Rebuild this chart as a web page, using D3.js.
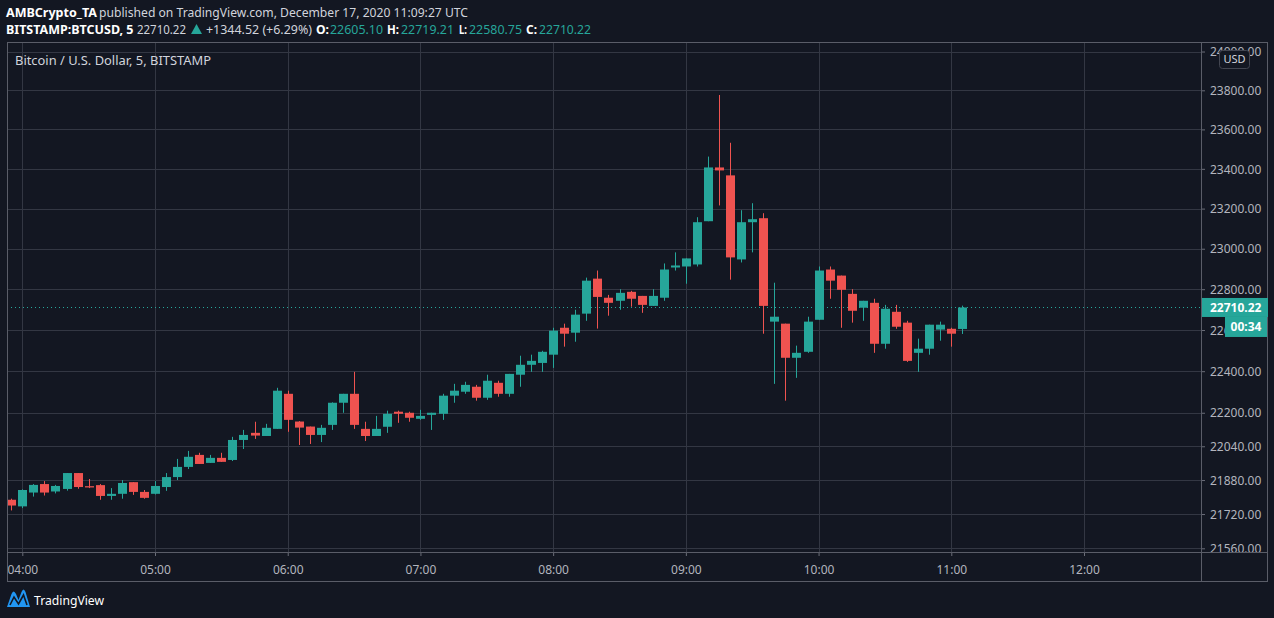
<!DOCTYPE html>
<html><head><meta charset="utf-8">
<script src="https://cdn.jsdelivr.net/npm/d3@7"></script>
<style>
html,body{margin:0;padding:0;background:#131722;}
svg{display:block;}
text{font-family:"Noto Sans",sans-serif;}
</style></head><body>
<svg id="c" width="1274" height="618"></svg>
<script>
const times = ["03:55","04:00","04:05","04:10","04:15","04:20","04:25","04:30","04:35","04:40","04:45","04:50","04:55",
"05:00","05:05","05:10","05:15","05:20","05:25","05:30","05:35","05:40","05:45","05:50","05:55",
"06:00","06:05","06:10","06:15","06:20","06:25","06:30","06:35","06:40","06:45","06:50","06:55",
"07:00","07:05","07:10","07:15","07:20","07:25","07:30","07:35","07:40","07:45","07:50","07:55",
"08:00","08:05","08:10","08:15","08:20","08:25","08:30","08:35","08:40","08:45","08:50","08:55",
"09:00","09:05","09:10","09:15","09:20","09:25","09:30","09:35","09:40","09:45","09:50","09:55",
"10:00","10:05","10:10","10:15","10:20","10:25","10:30","10:35","10:40","10:45","10:50","10:55",
"11:00","11:05"];
const opens = [21787,21756,21821,21861,21826,21838,21913,21851,21856,21805,21815,21870,21824,
21815,21847,21894,21942,21999,21961,21985,21975,22070,22104,22089,22123,
22291,22158,22134,22094,22142,22248,22291,22123,22089,22133,22205,22200,
22171,22190,22195,22282,22301,22325,22272,22344,22291,22383,22431,22440,
22480,22611,22587,22680,22852,22758,22743,22787,22767,22718,22758,22907,
22912,22922,23137,23407,23367,22947,23132,23152,22641,22631,22465,22494,
22650,22897,22867,22777,22709,22733,22533,22689,22636,22489,22509,22602,
22606,22605.10];
const highs = [21792,21836,21861,21875,21857,21913,21913,21885,21861,21842,21880,21870,21833,
21875,21913,21980,22018,22009,21999,22009,22085,22118,22157,22147,22320,
22306,22160,22134,22142,22250,22291,22397,22157,22185,22210,22210,22205,
22214,22200,22291,22339,22349,22334,22383,22354,22387,22475,22480,22499,
22611,22631,22699,22857,22892,22772,22800,22792,22767,22800,22927,22982,
22952,23157,23462,23776,23532,23192,23227,23177,22832,22631,22524,22665,
22912,22912,22867,22800,22743,22753,22723,22723,22645,22558,22626,22641,
22611,22719.21];
const lows = [21737,21748,21802,21807,21817,21830,21839,21842,21787,21787,21792,21810,21792,
21812,21829,21880,21932,21956,21961,21966,21970,22027,22075,22089,22123,
22109,22046,22051,22060,22118,22200,22123,22065,22089,22104,22152,22157,
22166,22118,22166,22248,22291,22258,22262,22277,22277,22325,22397,22397,
22416,22519,22543,22645,22607,22670,22699,22714,22684,22718,22743,22892,
22827,22912,23137,23216,22847,22932,22982,22582,22339,22258,22368,22489,
22650,22753,22611,22636,22645,22489,22509,22606,22445,22397,22480,22548,
22519,22580.75];
const closes = [21760,21833,21857,21821,21852,21913,21847,21845,21805,21815,21866,21824,21796,
21852,21894,21942,21990,21956,21985,21966,22070,22094,22091,22128,22306,
22166,22129,22094,22128,22248,22291,22142,22089,22123,22195,22195,22176,
22185,22200,22282,22306,22334,22272,22354,22291,22387,22431,22450,22494,
22597,22582,22675,22842,22762,22733,22782,22753,22723,22767,22897,22917,
22952,23132,23407,23392,22957,23132,23147,22718,22665,22465,22489,22641,
22892,22842,22797,22694,22743,22533,22704,22616,22450,22509,22626,22626,
22582,22710.22];
const priceTicks = [21560,21720,21880,22040,22200,22400,22600,22800,23000,23200,23400,23600,23800,24000];
const hourTicks = ["04:00","05:00","06:00","07:00","08:00","09:00","10:00","11:00","12:00"];
const lastPrice = 22710.22;

const UP = "#26a69a", DOWN = "#ef5350", GRID = "#333743", BORDER = "#5a5d68", TXT = "#d1d4dc", AX = "#b2b5be";
const parse = t => new Date(Date.UTC(2020, 11, 17, +t.slice(0, 2), +t.slice(3)));

const L = 7, R = 1201, T = 42, B = 552;
const svg = d3.select("#c");
svg.append("rect").attr("width", 1274).attr("height", 618).attr("fill", "#131722");

const x = d3.scaleUtc().domain([parse("04:00"), parse("12:00")]).range([22.3, 1084]);
const y = d3.scaleLog().domain([21560, 23800]).range([548.3, 90.3]);

const defs = svg.append("defs");
defs.append("clipPath").attr("id", "plot").append("rect").attr("x", L).attr("y", T).attr("width", R - L).attr("height", B - T);
defs.append("clipPath").attr("id", "pax").append("rect").attr("x", R + 1).attr("y", T + 1).attr("width", 66).attr("height", B - T - 1);

// grid
const g = svg.append("g").attr("clip-path", "url(#plot)");
g.selectAll(".hg").data(priceTicks).join("line")
  .attr("x1", L).attr("x2", R).attr("y1", d => Math.round(y(d)) + 0.5).attr("y2", d => Math.round(y(d)) + 0.5)
  .attr("stroke", GRID).attr("stroke-width", 1);
g.selectAll(".vg").data(hourTicks).join("line")
  .attr("y1", T).attr("y2", B).attr("x1", d => Math.round(x(parse(d))) + 0.5).attr("x2", d => Math.round(x(parse(d))) + 0.5)
  .attr("stroke", GRID).attr("stroke-width", 1);

// last price dotted line
g.append("line").attr("x1", L).attr("x2", R).attr("y1", Math.round(y(lastPrice)) + 0.5).attr("y2", Math.round(y(lastPrice)) + 0.5)
  .attr("stroke", UP).attr("stroke-width", 1).attr("stroke-dasharray", "1,3");

// candles
const data = times.map((t, i) => ({ t: parse(t), o: opens[i], h: highs[i], l: lows[i], c: closes[i] }));
const cg = g.append("g");
data.forEach(d => {
  const cx = Math.round(x(d.t));
  const col = d.c >= d.o ? UP : DOWN;
  const yh = y(d.h), yl = y(d.l);
  cg.append("rect").attr("x", cx).attr("width", 1).attr("y", yh).attr("height", Math.max(1, yl - yh)).attr("fill", col);
  const top = y(Math.max(d.o, d.c)), bot = y(Math.min(d.o, d.c));
  cg.append("rect").attr("x", cx - 4).attr("width", 9).attr("y", top).attr("height", Math.max(1, bot - top)).attr("fill", col);
});

// price axis
const yaOuter = svg.append("g").attr("clip-path", "url(#pax)");
const ya = yaOuter.append("g").attr("transform", `translate(${R},0)`)
  .call(d3.axisRight(y).tickValues(priceTicks).tickFormat(d3.format(".2f")).tickSize(4).tickPadding(5));
ya.select(".domain").remove();
ya.selectAll("line").attr("stroke", "#6a6d78");
ya.selectAll("text").attr("fill", AX).style("font-size", "12px").attr("dy", "0.35em");

// time axis
const xa = svg.append("g").attr("transform", `translate(0,${B})`)
  .call(d3.axisBottom(x).tickValues(hourTicks.map(parse)).tickFormat(d3.utcFormat("%H:%M")).tickSize(4).tickPadding(9));
xa.select(".domain").remove();
xa.selectAll("line").attr("stroke", "#6a6d78");
xa.selectAll("text").attr("fill", AX).style("font-size", "12px");

// borders
svg.append("rect").attr("x", L + 0.5).attr("y", T + 0.5).attr("width", 1267 - L).attr("height", 581 - T)
  .attr("fill", "none").attr("stroke", BORDER);
svg.append("line").attr("x1", R + 0.5).attr("x2", R + 0.5).attr("y1", T).attr("y2", 581).attr("stroke", BORDER);
svg.append("line").attr("x1", L).attr("x2", 1267.5).attr("y1", B + 0.5).attr("y2", B + 0.5).attr("stroke", BORDER);

// last price label + countdown
const ly = y(lastPrice);
svg.append("rect").attr("x", R + 1).attr("y", ly - 9.5).attr("width", 66).attr("height", 19).attr("fill", UP);
svg.append("text").attr("x", 1210).attr("y", ly).attr("dy", "0.36em").attr("fill", "#ffffff")
  .style("font-size", "12px").style("font-weight", "bold").text("22710.22");
svg.append("rect").attr("x", 1225).attr("y", ly + 9.5).attr("width", 42).attr("height", 20).attr("fill", UP);
svg.append("text").attr("x", 1246).attr("y", ly + 19.5).attr("dy", "0.36em").attr("text-anchor", "middle").attr("fill", "#ffffff")
  .style("font-size", "12px").style("font-weight", "bold").text("00:34");

// USD badge
svg.append("rect").attr("x", 1219.5).attr("y", 50.5).attr("width", 30).attr("height", 18).attr("rx", 3)
  .attr("fill", "#131722").attr("stroke", "#434651");
svg.append("text").attr("x", 1234.5).attr("y", 59.5).attr("dy", "0.36em").attr("text-anchor", "middle")
  .attr("fill", TXT).style("font-size", "11px").text("USD");

// legend
svg.append("text").attr("x", 15).attr("y", 65).attr("fill", TXT).style("font-size", "12.5px")
  .attr("textLength", 196).attr("lengthAdjust", "spacingAndGlyphs").text("Bitcoin / U.S. Dollar, 5, BITSTAMP");

// header
function seg(xp, yp, w, txt, col, bold) {
  svg.append("text").attr("x", xp).attr("y", yp).attr("fill", col).style("font-size", "13px")
    .style("font-weight", bold ? "bold" : "normal")
    .attr("textLength", w).attr("lengthAdjust", "spacingAndGlyphs").text(txt);
}
seg(6, 17, 91, "AMBCrypto_TA", "#ffffff", true);
seg(99, 17, 369, "published on TradingView.com, December 17, 2020 11:09:27 UTC", TXT, false);
seg(6, 34, 127.5, "BITSTAMP:BTCUSD, 5", "#ffffff", true);
seg(137, 34, 49, "22710.22", TXT, false);
svg.append("path").attr("d", "M191,34 L202,34 L196.5,24 Z").attr("fill", UP);
seg(206, 34, 106, "+1344.52 (+6.29%)", TXT, false);
seg(316, 34, 13, "O:", "#ffffff", true);
seg(330, 34, 53, "22605.10", UP, false);
seg(387, 34, 12, "H:", "#ffffff", true);
seg(401, 34, 53, "22719.21", UP, false);
seg(459, 34, 8, "L:", "#ffffff", true);
seg(469, 34, 53, "22580.75", UP, false);
seg(526, 34, 11, "C:", "#ffffff", true);
seg(539, 34, 52, "22710.22", UP, false);

// TradingView logo
svg.append("path").attr("d", "M7,607 L11.5,594 Q13.5,589 16,594 L18.5,600 L21.5,592 Q23.5,587 25.5,592 L30,607 Z").attr("fill", "#2196f3");
svg.append("path").attr("d", "M10,605 L14,597 L18.5,604 L23.5,595 L27,605").attr("fill", "none").attr("stroke", "#131722").attr("stroke-width", 1.6);
svg.append("text").attr("x", 34).attr("y", 605).attr("fill", "#ffffff").style("font-size", "13px")
  .attr("textLength", 70).attr("lengthAdjust", "spacingAndGlyphs").text("TradingView");
</script>
</body></html>
